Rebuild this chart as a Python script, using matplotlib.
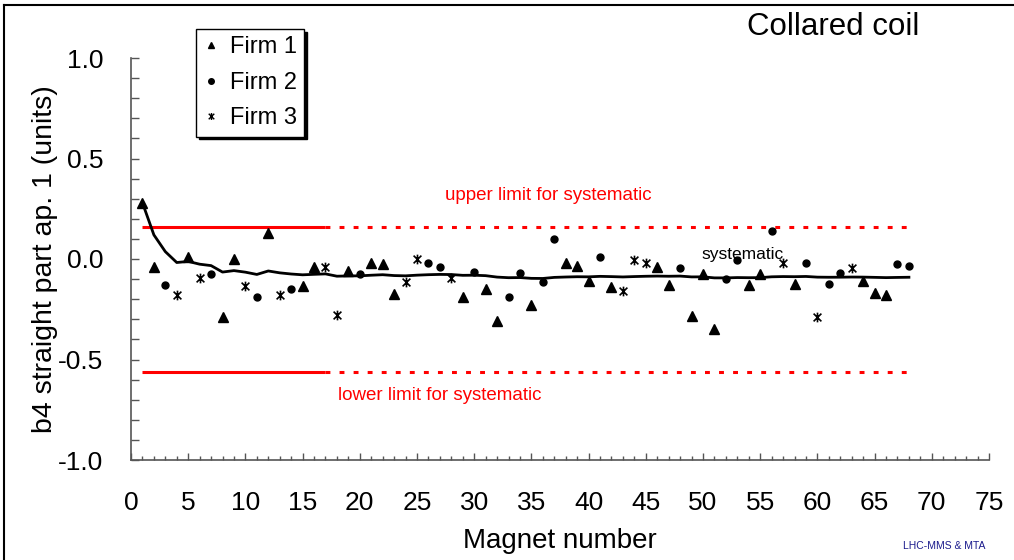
import numpy as np
import matplotlib.pyplot as plt
from matplotlib.path import Path
from matplotlib.lines import Line2D

plt.rcParams['font.family'] = ['Liberation Sans', 'DejaVu Sans']

# b4 measurements per firm (magnet number, value in units)
firm1_mag = [1, 2, 5, 8, 9, 12, 15, 16, 19, 21, 22, 23, 29, 31, 32, 35, 38, 39, 40,
             42, 46, 47, 49, 50, 51, 54, 55, 58, 64, 65, 66]
firm1_b4 = [0.28, -0.04, 0.01, -0.29, 0.0, 0.13, -0.135, -0.04, -0.06, -0.02, -0.025,
            -0.175, -0.19, -0.15, -0.31, -0.23, -0.02, -0.035, -0.11, -0.14, -0.04,
            -0.13, -0.285, -0.075, -0.35, -0.13, -0.075, -0.125, -0.11, -0.17, -0.18]

firm2_mag = [3, 7, 11, 14, 20, 26, 27, 30, 33, 34, 36, 37, 41, 48, 52, 53, 56, 59,
             61, 62, 67, 68]
firm2_b4 = [-0.13, -0.075, -0.19, -0.15, -0.075, -0.02, -0.04, -0.065, -0.19, -0.07,
            -0.115, 0.10, 0.01, -0.045, -0.10, -0.005, 0.14, -0.02, -0.125, -0.07,
            -0.025, -0.035]

firm3_mag = [4, 6, 10, 13, 17, 18, 24, 25, 28, 43, 44, 45, 57, 60, 63]
firm3_b4 = [-0.18, -0.095, -0.135, -0.18, -0.04, -0.28, -0.115, 0.0, -0.095, -0.16,
            -0.005, -0.02, -0.02, -0.29, -0.045]

upper_limit = 0.16
lower_limit = -0.56
solid_end = 17

# systematic = running mean over all magnets in production order
mags = np.array(firm1_mag + firm2_mag + firm3_mag)
vals = np.array(firm1_b4 + firm2_b4 + firm3_b4)
order = np.argsort(mags)
mags, vals = mags[order], vals[order]
systematic = np.cumsum(vals) / np.arange(1, len(vals) + 1)

# asterisk marker: X plus vertical bar
star = Path([(0, -1), (0, 1), (-0.8, -0.8), (0.8, 0.8), (-0.8, 0.8), (0.8, -0.8)],
            [Path.MOVETO, Path.LINETO, Path.MOVETO, Path.LINETO, Path.MOVETO, Path.LINETO])

fig = plt.figure(figsize=(10.14, 5.6), dpi=100)
ax = fig.add_axes([131 / 1014, 100 / 560, 858 / 1014, 402 / 560])

# limits: solid over the first magnets, dotted afterwards
dots = (0, (1.6, 3.0))
for lim in (upper_limit, lower_limit):
    ax.plot([1, solid_end], [lim] * 2, color='#ff0000', lw=2.2, solid_capstyle='butt')
    ax.plot([solid_end, mags[-1]], [lim] * 2, color='#ff0000', lw=2.2,
            linestyle=dots, dash_capstyle='butt')

ax.plot(mags, systematic, color='black', lw=2.0, zorder=3)

ax.plot(firm1_mag, firm1_b4, linestyle='none', marker='^', ms=6.5, color='black', zorder=4)
ax.plot(firm2_mag, firm2_b4, linestyle='none', marker='o', ms=5, color='black', zorder=4)
ax.plot(firm3_mag, firm3_b4, linestyle='none', marker=star, ms=7, color='black',
        mew=1.2, zorder=4)

ax.text(36.5, 0.318, 'upper limit for systematic', color='#ff0000', fontsize=13.5,
        ha='center', va='center')
ax.text(27.0, -0.68, 'lower limit for systematic', color='#ff0000', fontsize=13.5,
        ha='center', va='center')
ax.text(53.5, 0.02, 'systematic', color='black', fontsize=12.5, ha='center', va='center')

ax.set_xlim(0, 75)
ax.set_ylim(-1, 1)
ax.set_xticks(np.arange(0, 76, 5))
ax.set_xticks(np.arange(0, 76, 1), minor=True)
ax.set_yticks([-1.0, -0.5, 0.0, 0.5, 1.0])
ax.set_yticklabels(['-1.0', '-0.5', '0.0', '0.5', '1.0'])
ax.set_yticks(np.arange(-1, 1.01, 0.1), minor=True)

for side in ['top', 'right']:
    ax.spines[side].set_visible(False)
for side in ['left', 'bottom']:
    ax.spines[side].set_color('#555555')
    ax.spines[side].set_linewidth(1.2)

ax.tick_params(axis='x', which='major', direction='in', length=5, width=1,
               labelsize=19, pad=22, color='#555555')
ax.tick_params(axis='x', which='minor', direction='in', length=3, width=1, color='#555555')
ax.tick_params(axis='y', which='both', direction='in', length=6, width=1,
               labelsize=19, pad=20, color='#555555')

ax.set_xlabel('Magnet number', fontsize=20, labelpad=10)
ax.set_ylabel('b4 straight part ap. 1 (units)', fontsize=20.5, labelpad=0)

handles = [
    Line2D([], [], linestyle='none', marker='^', ms=5, color='black'),
    Line2D([], [], linestyle='none', marker='o', ms=4, color='black'),
    Line2D([], [], linestyle='none', marker=star, ms=5, mew=1, color='black'),
]
leg = ax.legend(handles, ['Firm 1', 'Firm 2', 'Firm 3'], loc='upper left',
                bbox_to_anchor=(196 / 1014, 1 - 29 / 560), bbox_transform=fig.transFigure,
                borderaxespad=0, fontsize=17, handlelength=0.7, handletextpad=0.45,
                labelspacing=0.58, borderpad=0.3, fancybox=False,
                shadow={'color': 'black', 'alpha': 1.0})
leg.get_frame().set_edgecolor('black')
leg.get_frame().set_linewidth(1)

fig.text(833 / 1014, 1 - 27 / 560, 'Collared coil', fontsize=22.5, ha='center', va='center')
fig.text(944 / 1014, 1 - 546 / 560, 'LHC-MMS & MTA', fontsize=7.5, color='#1a1a8c',
         ha='center', va='center')

# outer frame lines
fig.add_artist(Line2D([4 / 1014, 4 / 1014], [0, 1 - 5 / 560], transform=fig.transFigure,
                      color='black', lw=1.5))
fig.add_artist(Line2D([4 / 1014, 1], [1 - 5 / 560, 1 - 5 / 560], transform=fig.transFigure,
                      color='black', lw=1.5))

fig.savefig('out.png', dpi=100)
